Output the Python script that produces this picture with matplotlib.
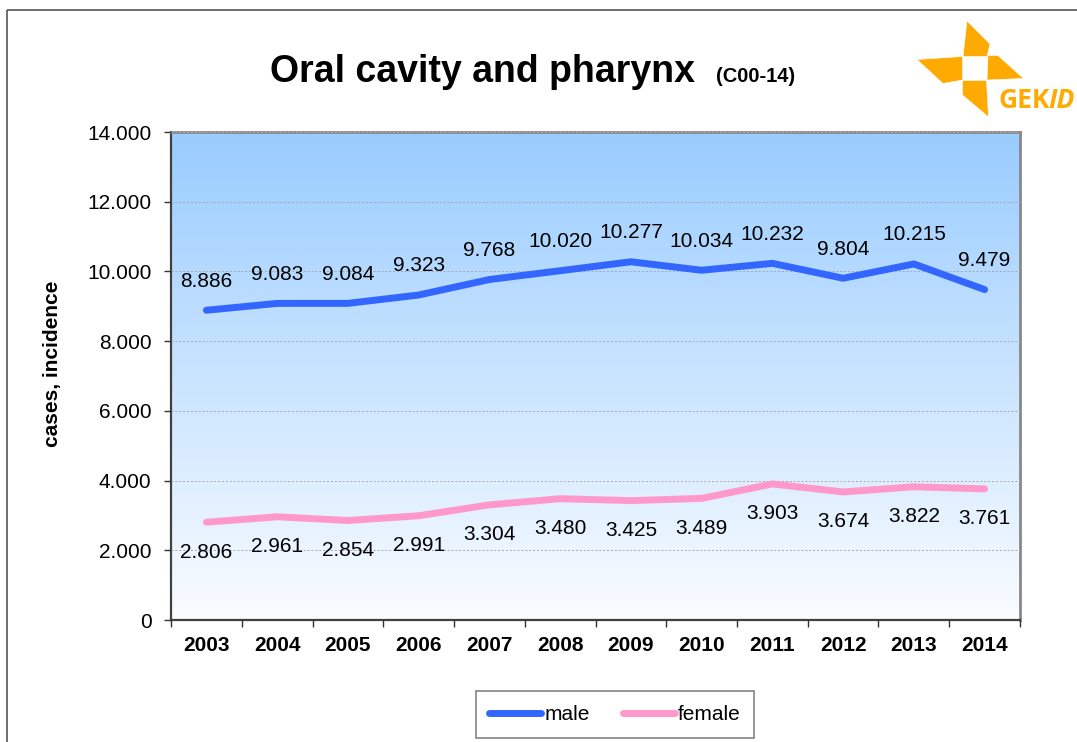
import matplotlib.pyplot as plt
import numpy as np
from matplotlib.patches import Polygon, Rectangle

plt.rcParams['font.family'] = ['Liberation Sans', 'DejaVu Sans']

years = ['2003', '2004', '2005', '2006', '2007', '2008', '2009', '2010', '2011', '2012', '2013', '2014']
male = [8886, 9083, 9084, 9323, 9768, 10020, 10277, 10034, 10232, 9804, 10215, 9479]
female = [2806, 2961, 2854, 2991, 3304, 3480, 3425, 3489, 3903, 3674, 3822, 3761]
yticks = [0, 2000, 4000, 6000, 8000, 10000, 12000, 14000]

male_col = '#3366FF'
female_col = '#FF99CC'
orange = '#FFAA00'


def dotfmt(v):
    return f"{v:,.0f}".replace(",", ".")


W, H = 1077, 742
fig = plt.figure(figsize=(W / 100, H / 100), dpi=100)
fig.set_facecolor('white')

ax = fig.add_axes([171 / W, 1 - 620 / H, (1020 - 171) / W, (620 - 132) / H])
x = np.arange(len(years))
ax.set_xlim(-0.5, len(years) - 0.5)
ax.set_ylim(0, 14000)

# gradient background of the plot area
grad = np.linspace(0, 1, 256).reshape(-1, 1)
top = np.array([0x99, 0xCC, 0xFF]) / 255
bot = np.array([0xFA, 0xFC, 0xFF]) / 255
img = bot + (top - bot) * grad
ax.imshow(img[:, None, :].repeat(2, axis=1), extent=[-0.5, len(years) - 0.5, 0, 14000],
          origin='lower', aspect='auto', zorder=0)

ax.yaxis.grid(True, color='#a8a8a8', linestyle=(0, (2, 2)), linewidth=0.7, zorder=1)
ax.set_axisbelow(False)

ax.plot(x, male, color=male_col, lw=5, solid_capstyle='round', solid_joinstyle='round', zorder=3, label='male')
ax.plot(x, female, color=female_col, lw=5, solid_capstyle='round', solid_joinstyle='round', zorder=3, label='female')

for xi, v in zip(x, male):
    ax.annotate(dotfmt(v), (xi, v), xytext=(0, 21), textcoords='offset points',
                ha='center', va='center', fontsize=15, zorder=4)
for xi, v in zip(x, female):
    ax.annotate(dotfmt(v), (xi, v), xytext=(0, -21.5), textcoords='offset points',
                ha='center', va='center', fontsize=15, zorder=4)

ax.set_yticks(yticks)
ax.set_yticklabels([dotfmt(v) for v in yticks], fontsize=15)
ax.tick_params(axis='y', direction='out', length=5, width=1, color='#333333', pad=9)

ax.set_xticks(np.arange(-0.5, len(years), 1.0))
ax.set_xticklabels([])
ax.set_xticks(x, minor=True)
ax.set_xticklabels(years, minor=True, fontsize=15, fontweight='bold')
ax.tick_params(axis='x', which='major', direction='out', length=5, width=1, color='#333333')
ax.tick_params(axis='x', which='minor', length=0, pad=11.5)

for s in ['left', 'bottom']:
    ax.spines[s].set_color('#404040')
    ax.spines[s].set_linewidth(1.6)
for s in ['top', 'right']:
    ax.spines[s].set_color('#888888')
    ax.spines[s].set_linewidth(2)

ax.set_ylabel('cases, incidence', fontsize=15, fontweight='bold')
ax.yaxis.set_label_coords((62 - 171) / (1020 - 171), (620 - 364) / (620 - 132))

leg = fig.legend(loc='center', bbox_to_anchor=(615 / W, 1 - 714.5 / H), ncol=2, fontsize=15,
                 frameon=True, fancybox=False, edgecolor='#666666', handlelength=2.5,
                 handletextpad=0.15, columnspacing=1.6, borderpad=0.65)
leg.get_frame().set_linewidth(1.2)
for line in leg.get_lines():
    line.set_linewidth(5)
    line.set_solid_capstyle('round')

# overlay in pixel coordinates for border and logo
ov = fig.add_axes([0, 0, 1, 1], zorder=-1)
ov.set_xlim(0, W)
ov.set_ylim(H, 0)
ov.axis('off')
ov.add_patch(Rectangle((7, 10), W + 20, H + 20, fill=False, edgecolor='#555555', lw=1.2))

fig.text(483 / W, 1 - 72 / H, 'Oral cavity and pharynx', fontsize=27, fontweight='bold',
         ha='center', va='center')
fig.text(716 / W, 1 - 77 / H, '(C00-14)', fontsize=14.5, fontweight='bold', ha='left', va='center')

ov2 = fig.add_axes([0, 0, 1, 1])
ov2.set_xlim(0, W)
ov2.set_ylim(H, 0)
ov2.axis('off')
blades = [
    [(967, 21), (990, 44), (987, 56.5), (963, 56.5)],
    [(917, 59.5), (962.5, 56.5), (962.5, 80), (943, 83.5)],
    [(962.5, 80.5), (986.5, 80.5), (988.5, 117), (962.5, 95)],
    [(988, 55.5), (998, 55.5), (1023.5, 78.5), (987, 80)],
]
for b in blades:
    ov2.add_patch(Polygon(b, closed=True, facecolor=orange, edgecolor='white', lw=0.4))
ov2.text(999, 108, 'GEK', color=orange, fontsize=19, fontweight='bold', family='Open Sans',
         ha='left', va='baseline')
ov2.text(1048, 108, 'ID', color=orange, fontsize=19, fontstyle='italic', fontweight='bold',
         family='Open Sans', ha='left', va='baseline')

fig.savefig('out.png', dpi=100)
